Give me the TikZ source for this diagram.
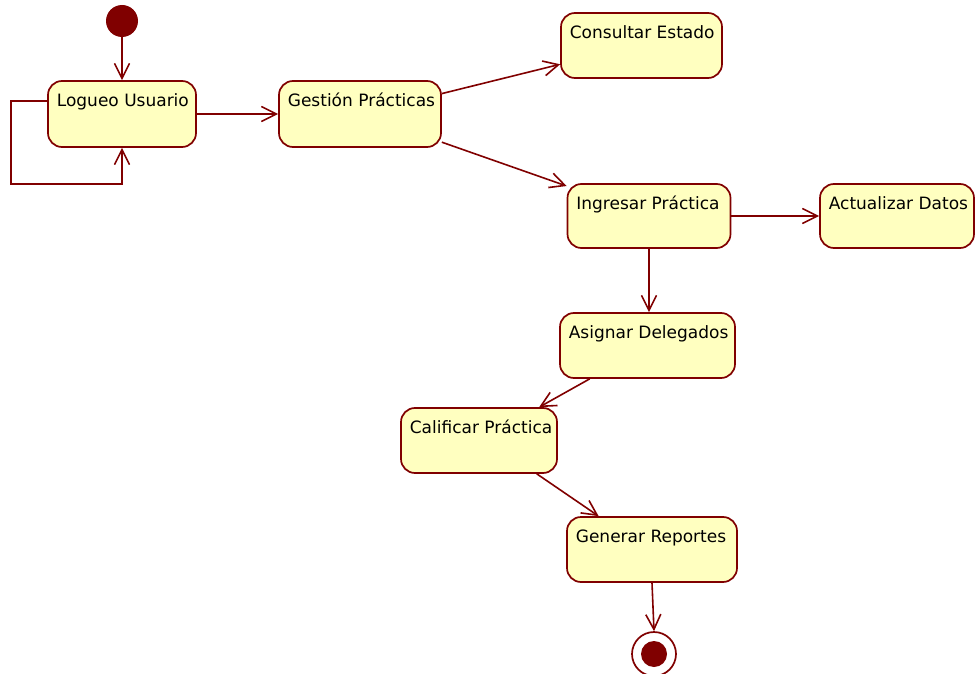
\documentclass[tikz,border=0pt]{standalone}
\usepackage{fontspec}
\setmainfont{DejaVu Sans}
\usetikzlibrary{arrows.meta}

\definecolor{umlline}{RGB}{128,0,0}
\definecolor{umlfill}{RGB}{255,255,192}

\tikzset{
  state/.style={draw=umlline, fill=umlfill, line width=1.7pt, rounded corners=14pt,
    inner sep=0pt, minimum height=65pt},
  caption/.style={anchor=base west, inner sep=0pt, xshift=9.5pt, yshift=-26.5pt,
    font=\fontsize{17pt}{20pt}\selectfont, text=black},
  flow/.style={draw=umlline, line width=1.6pt,
    -{Straight Barb[length=15pt,width=15pt,line width=1.6pt]}},
  initial/.style={circle, fill=umlline, inner sep=0pt, minimum size=32pt},
  finalring/.style={circle, draw=umlline, fill=white, line width=1.7pt, inner sep=0pt, minimum size=44pt},
  finaldot/.style={circle, fill=umlline, inner sep=0pt, minimum size=26pt},
}

\begin{document}
\begin{tikzpicture}[x=1pt, y=-1pt]
\useasboundingbox (0,0) rectangle (975,674);

% activity states
\node[state, minimum width=148pt, minimum height=66pt,
      label={[caption]north west:Logueo Usuario}] (log) at (122,114) {};
\node[state, minimum width=162pt, minimum height=66pt,
      label={[caption]north west:Gestión Prácticas}] (ges) at (360,114) {};
\node[state, minimum width=161pt,
      label={[caption]north west:Consultar Estado}] (con) at (641.5,45.5) {};
\node[state, minimum width=163pt, minimum height=64pt,
      label={[caption]north west:Ingresar Práctica}] (ing) at (649,216) {};
\node[state, minimum width=154pt, minimum height=64pt,
      label={[caption]north west:Actualizar Datos}] (act) at (897,216) {};
\node[state, minimum width=175pt,
      label={[caption]north west:Asignar Delegados}] (asi) at (647.5,345.5) {};
\node[state, minimum width=156pt,
      label={[caption]north west:Calificar Práctica}] (cal) at (479,440.5) {};
\node[state, minimum width=170pt,
      label={[caption]north west:Generar Reportes}] (gen) at (652,549.5) {};

% initial and final states
\node[initial] (start) at (122,21) {};
\node[finalring] (stop) at (654,654) {};
\node[finaldot] at (stop.center) {};

% self loop corner
\coordinate (loopc) at (11,184);

% transitions
\draw[flow] (start.south) -- (log.north);
\draw[flow] ([yshift=13pt]log.west) -| (loopc) -| (log.south);
\draw[flow] (log.east) -- (ges.west);
\draw[flow] (ges.14) -- (con.193);
\draw[flow] (ges.-19) -- (ing.160);
\draw[flow] (ing.east) -- (act.west);
\draw[flow] (ing.south) -- (ing.south |- asi.north);
\draw[flow] (asi.210) -- (cal.29);
\draw[flow] (cal.-30) -- (gen.148);
\draw[flow] (gen.south) -- (stop.north);
\end{tikzpicture}
\end{document}
